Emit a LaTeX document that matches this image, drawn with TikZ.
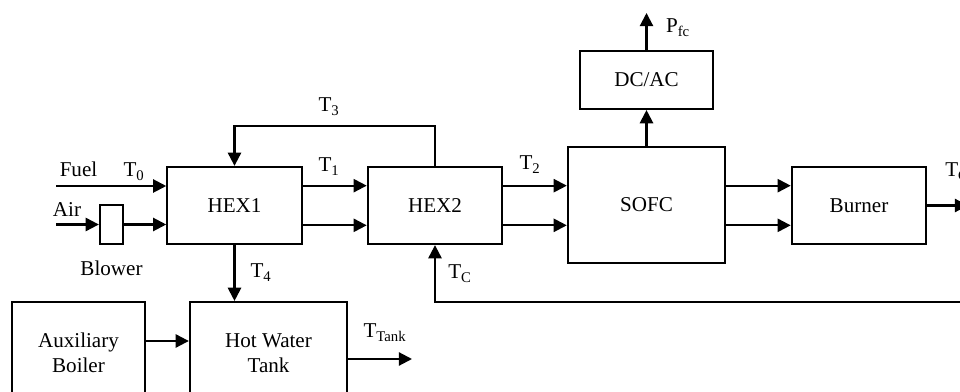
\documentclass[tikz,border=0pt]{standalone}
\usepackage{fontspec}
\setmainfont{Liberation Serif}
\usepackage{tikz}
\usetikzlibrary{arrows.meta,calc}
\newcommand{\subs}[1]{\textsubscript{#1}}
\tikzset{
  blockbox/.style={rectangle, draw=black, line width=1.5pt, fill=white,
                   align=center, font=\fontsize{15}{17.7}\selectfont,
                   inner sep=2pt, minimum width=3.36cm, minimum height=1.93cm},
  arr/.style={-{Triangle[length=3.3mm, width=3.3mm]}, line width=1.5pt},
  lbl/.style={inner sep=0pt, anchor=base, font=\fontsize{15}{17.7}\selectfont},
}
\begin{document}
\begin{tikzpicture}[x=0.025cm, y=-0.025cm]
  \useasboundingbox (0,0) rectangle (960,392);
  % blocks
  \node[blockbox] (hex1) at (234.5,205.5) {HEX1};
  \node[blockbox] (hex2) at (435,205.5) {HEX2};
  \node[blockbox, minimum width=3.93cm, minimum height=2.9cm] (sofc) at (646.5,205) {SOFC};
  \node[blockbox, minimum width=3.33cm, minimum height=1.45cm] (dcac) at (646.5,80) {DC/AC};
  \node[blockbox] (burner) at (859,205.5) {Burner};
  \node[blockbox, minimum width=0.58cm, minimum height=0.98cm] (blower) at (111.5,224.5) {};
  \node[blockbox, minimum width=3.33cm, minimum height=2.55cm] (aux) at (78.5,353) {Auxiliary\\Boiler};
  \node[blockbox, minimum width=3.93cm, minimum height=2.55cm] (tank) at (268.5,353) {Hot Water\\Tank};
  % free ends
  \coordinate (fuel) at (56,186);
  \coordinate (air) at (56,224.5);
  \coordinate (pfc) at (646.5,13);
  \coordinate (exh) at (968,205.5);
  \coordinate (ret) at (975,302);
  \coordinate (tankout) at (412,359);
  % inlets
  \draw[arr] (fuel) -- (fuel -| hex1.west);
  \draw[arr] (air) -- (blower.west);
  \draw[arr] (blower.east) -- (blower.east -| hex1.west);
  % main gas path
  \foreach \f in {0.25,0.75} {
    \coordinate (p) at ($(hex1.north east)!\f!(hex1.south east)$);
    \draw[arr] (p) -- (p -| hex2.west);
    \draw[arr] (p -| hex2.east) -- (p -| sofc.west);
    \draw[arr] (p -| sofc.east) -- (p -| burner.west);
  }
  \draw[arr] (hex2.north) -- ++(0,-40) -| (hex1.north);
  \draw[arr] (ret) -| (hex2.south);
  \draw[arr] (burner.east) -- (exh);
  \draw[arr] (sofc.north) -- (dcac.south);
  \draw[arr] (dcac.north) -- (pfc);
  % hot water side
  \draw[arr] (hex1.south) -- (hex1.south |- tank.north);
  \draw[arr] ([yshift=0.3cm]aux.east) -- ([yshift=0.3cm]tank.west);
  \draw[arr] (tankout -| tank.east) -- (tankout);
  % labels
  \node[lbl] (lfuel) at (78.5,177) {Fuel};
  \node[lbl] (lair) at (67,217) {Air};
  \node[lbl] (lblower) at (111.5,276) {Blower};
  \node[lbl] (lt0) at (134,177) {T\subs{0}};
  \node[lbl] (lt1) at (329,172) {T\subs{1}};
  \node[lbl] (lt2) at (530,170) {T\subs{2}};
  \node[lbl] (lt3) at (329,112) {T\subs{3}};
  \node[lbl] (lt4) at (261,278) {T\subs{4}};
  \node[lbl, anchor=base west] (ltc) at (448,279) {T\subs{C}};
  \node[lbl, anchor=base west] (lexh) at (945,177) {T\subs{C}};
  \node[lbl] (lpfc) at (678,33) {P\subs{fc}};
  \node[lbl] (ltank) at (385,338) {T\subs{Tank}};
\end{tikzpicture}
\end{document}
